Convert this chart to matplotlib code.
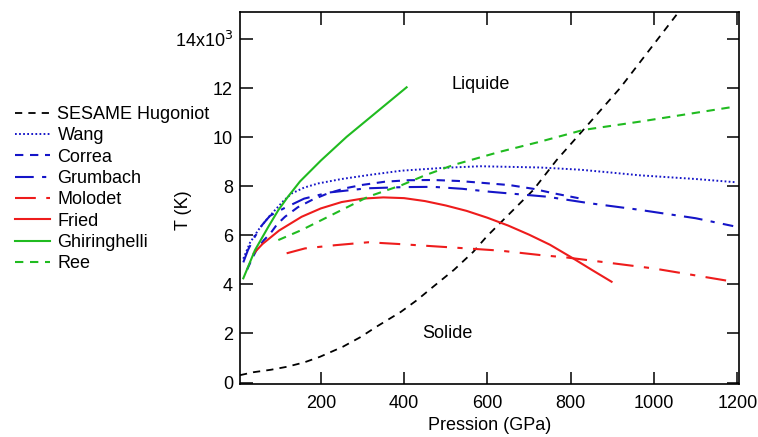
import matplotlib
matplotlib.use("Agg")
import matplotlib.pyplot as plt

plt.rcParams["font.family"] = ["Liberation Sans", "DejaVu Sans"]
plt.rcParams["font.size"] = 13

# pressure in GPa, temperature in 10^3 K
sesame_p = [6, 38, 80, 118, 160, 198, 253, 295, 334, 392, 430, 470, 520, 566, 598, 638, 710, 766, 830, 918, 1054]
sesame_t = [0.30, 0.42, 0.52, 0.64, 0.82, 1.05, 1.46, 1.85, 2.28, 2.88, 3.35, 3.91, 4.6, 5.33, 5.95, 6.63, 7.85, 9.07, 10.3, 12.0, 15.0]

wang_p = [14, 30, 50, 70, 90, 110, 130, 160, 194, 250, 314, 394, 500, 583, 726, 822, 886, 966, 1100, 1195]
wang_t = [5.05, 5.7, 6.22, 6.65, 7.03, 7.4, 7.71, 7.95, 8.12, 8.3, 8.46, 8.64, 8.76, 8.82, 8.77, 8.68, 8.58, 8.45, 8.3, 8.17]

correa_p = [23, 35, 47, 63, 79, 95, 114, 145, 178, 215, 258, 300, 354, 410, 470, 530, 583, 654, 710, 758, 830]
correa_t = [4.6, 5.05, 5.45, 5.8, 6.08, 6.45, 6.76, 7.15, 7.44, 7.7, 7.92, 8.06, 8.19, 8.25, 8.26, 8.22, 8.15, 8.05, 7.9, 7.72, 7.48]

grumbach_p = [14, 25, 40, 58, 78, 111, 160, 220, 310, 400, 470, 540, 606, 742, 846, 958, 1100, 1190]
grumbach_t = [4.9, 5.4, 5.9, 6.4, 6.8, 7.1, 7.5, 7.75, 7.92, 7.97, 7.98, 7.9, 7.78, 7.58, 7.31, 7.06, 6.7, 6.38]

molodet_p = [118, 162, 234, 314, 386, 550, 630, 726, 790, 870, 1000, 1194]
molodet_t = [5.27, 5.47, 5.6, 5.72, 5.65, 5.47, 5.38, 5.2, 5.1, 4.93, 4.65, 4.1]

fried_p = [39, 60, 100, 154, 200, 250, 300, 350, 400, 450, 500, 550, 600, 650, 700, 750, 806, 850, 898]
fried_t = [5.27, 5.65, 6.2, 6.76, 7.1, 7.36, 7.5, 7.55, 7.52, 7.4, 7.22, 7.0, 6.72, 6.4, 6.03, 5.62, 5.06, 4.6, 4.11]

ghir_p = [14, 42, 74, 98, 120, 150, 200, 262, 406]
ghir_t = [4.25, 5.4, 6.35, 7.03, 7.55, 8.2, 9.05, 10.02, 12.04]

ree_p = [98, 154, 234, 314, 394, 450, 518, 630, 726, 830, 966, 1182]
ree_t = [5.81, 6.22, 6.9, 7.58, 8.05, 8.45, 8.87, 9.41, 9.82, 10.3, 10.64, 11.22]

x_ticks = [200, 400, 600, 800, 1000, 1200]
y_ticks = [0, 2, 4, 6, 8, 10, 12, 14]
y_tick_labels = ["0", "2", "4", "6", "8", "10", "12", "14x10$^{3}$"]

BLUE = "#1515c8"
RED = "#ee1c1c"
GREEN = "#20bb20"


def k(t):
    return [v * 1000 for v in t]


fig = plt.figure(figsize=(7.58, 4.37), dpi=100)
ax = fig.add_axes([0.3166, 0.1224, 0.6584, 0.8501])

ax.plot(sesame_p, k(sesame_t), color="black", lw=1.3, dashes=(4.0, 3.4), label="SESAME Hugoniot")
ax.plot(wang_p, k(wang_t), color=BLUE, lw=1.4, dashes=(0.9, 1.2), label="Wang")
ax.plot(correa_p, k(correa_t), color=BLUE, lw=1.5, dashes=(4.0, 3.2), label="Correa")
ax.plot(grumbach_p, k(grumbach_t), color=BLUE, lw=1.5, dashes=(9, 4, 2, 4), label="Grumbach")
ax.plot(molodet_p, k(molodet_t), color=RED, lw=1.5, dashes=(10, 5, 2.5, 5), label="Molodet")
ax.plot(fried_p, k(fried_t), color=RED, lw=1.5, label="Fried")
ax.plot(ghir_p, k(ghir_t), color=GREEN, lw=1.5, label="Ghiringhelli")
ax.plot(ree_p, k(ree_t), color=GREEN, lw=1.5, dashes=(4.0, 3.2), label="Ree")

ax.text(585, 12150, "Liquide", ha="center", va="center")
ax.text(505, 2000, "Solide", ha="center", va="center")

ax.set_xlim(6, 1204)
ax.set_ylim(-40, 15110)
ax.set_xticks(x_ticks)
ax.set_yticks(k(y_ticks))
ax.set_yticklabels(y_tick_labels)
ax.tick_params(direction="in", length=9, width=1.1, top=True, right=True)
ax.tick_params(axis="x", pad=8)
ax.tick_params(axis="y", pad=5)
for s in ax.spines.values():
    s.set_linewidth(1.2)

ax.set_xlabel("Pression (GPa)", labelpad=4)
ax.set_ylabel("T (K)")
ax.yaxis.set_label_coords(-0.096, 0.467)

fig.legend(loc="upper left", bbox_to_anchor=(15 / 758, 1 - 106 / 437), frameon=False,
           borderpad=0, borderaxespad=0, handlelength=1.95, handletextpad=0.4,
           labelspacing=0.24)

fig.savefig("out.png", dpi=100)
